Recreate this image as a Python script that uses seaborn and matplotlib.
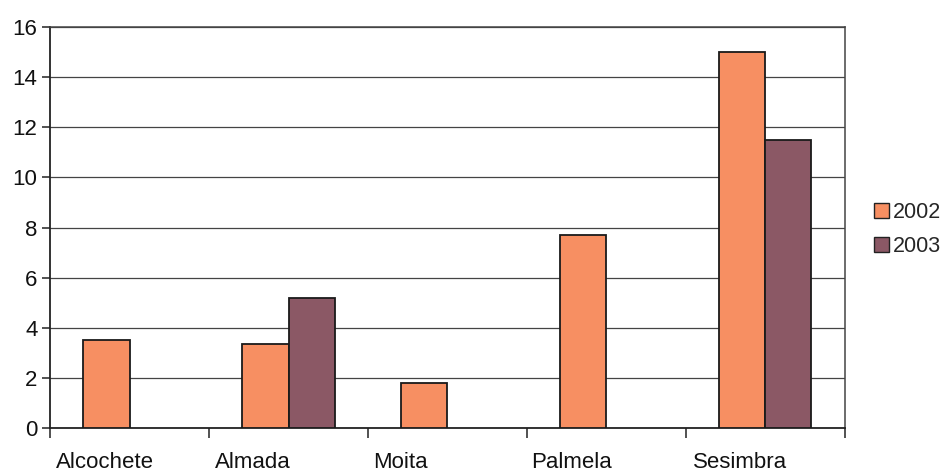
import matplotlib
matplotlib.use("Agg")
import matplotlib.pyplot as plt
import matplotlib.transforms as mtransforms
import numpy as np
import pandas as pd
import seaborn as sb

# values
municipios = ["Alcochete", "Almada", "Moita", "Palmela", "Sesimbra"]
anos = ["2002", "2003"]
valores_2002 = [3.5, 3.35, 1.8, 7.7, 15.0]
valores_2003 = [np.nan, 5.2, np.nan, np.nan, 11.5]
cores = ["#F78F62", "#8B5865"]

dataset = pd.DataFrame({
    "municipio": municipios * 2,
    "ano": ["2002"] * len(municipios) + ["2003"] * len(municipios),
    "valor": valores_2002 + valores_2003,
})

sb.set_style("white")
plt.rcParams["font.family"] = ["Liberation Sans", "DejaVu Sans"]

fig = plt.figure(figsize=(9.45, 4.76), dpi=100)
ax = fig.add_axes([0.053, 0.101, 0.841, 0.842])

sb.barplot(data=dataset, x="municipio", y="valor", hue="ano", hue_order=anos,
           order=municipios, palette=cores, saturation=1, width=0.58, dodge=True,
           edgecolor="#1a1a1a", linewidth=1.3, errorbar=None, ax=ax, zorder=3)

ax.set_ylim(0, 16)
ax.set_xlim(-0.5, len(municipios) - 0.5)
ax.set_yticks(range(0, 17, 2))
ax.yaxis.grid(True, color="#444444", linewidth=0.9, zorder=0)
ax.set_axisbelow(True)
ax.set_xlabel("")
ax.set_ylabel("")

# category boundaries get the tick marks, labels sit in between
ax.set_xticks(np.arange(-0.5, len(municipios), 1.0), minor=True)
ax.tick_params(axis="x", which="major", bottom=True, length=0, labelsize=16,
               pad=17, labelcolor="#111111")
ax.tick_params(axis="x", which="minor", bottom=True, length=7, width=1.1,
               color="#222222", direction="out")
ax.tick_params(axis="y", left=True, length=6, width=1.1, color="#222222",
               direction="out", labelsize=16, pad=3, labelcolor="#111111")

# the scanned labels sit a bit left of the category centres
desvios = [-25, -36, -47, -35, -25]
for lab, dx in zip(ax.get_xticklabels(), desvios):
    lab.set_transform(lab.get_transform() +
                      mtransforms.ScaledTranslation(dx / 100, 0, fig.dpi_scale_trans))

for lado in ["left", "bottom"]:
    ax.spines[lado].set_color("#222222")
    ax.spines[lado].set_linewidth(1.3)
for lado in ["top", "right"]:
    ax.spines[lado].set_color("#444444")
    ax.spines[lado].set_linewidth(1.1)

leg = ax.legend(loc="center left", bbox_to_anchor=(1.026, 0.495), frameon=False,
                fontsize=15.5, handlelength=0.7, handleheight=0.7,
                handletextpad=0.15, labelspacing=0.6, borderaxespad=0)
for h in leg.legend_handles:
    h.set_edgecolor("#222222")
    h.set_linewidth(1.0)

plt.savefig("out.png", dpi=100)
